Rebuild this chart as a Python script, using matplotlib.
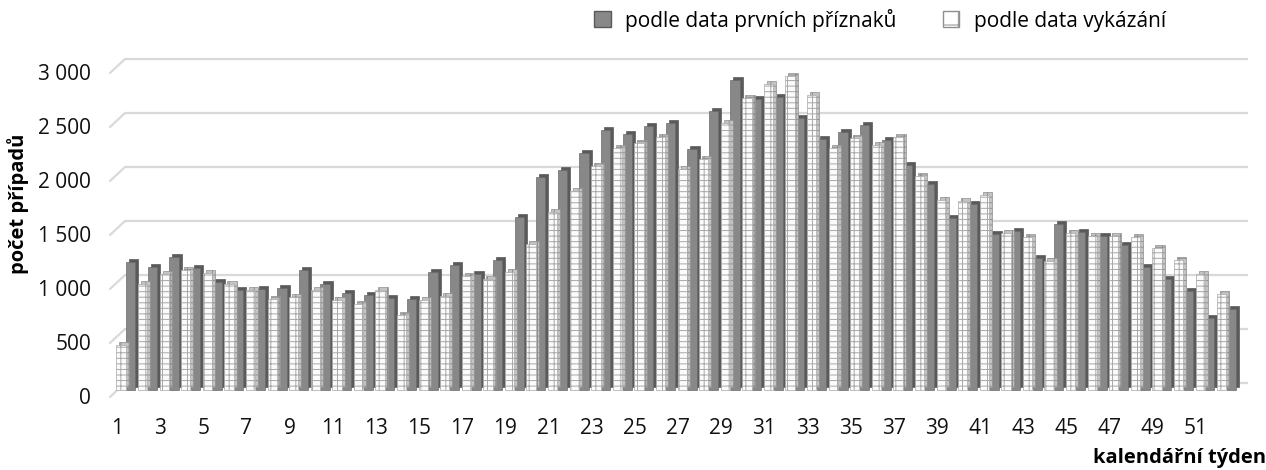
import matplotlib
matplotlib.use("Agg")
import matplotlib.pyplot as plt
from matplotlib.transforms import offset_copy, ScaledTranslation
from matplotlib.patches import Patch
import numpy as np

plt.rcParams['font.family'] = ['Open Sans', 'DejaVu Sans']
plt.rcParams['hatch.linewidth'] = 0.7

weeks = list(range(1, 53))
tick_weeks = list(range(1, 52, 2))
yticks = [0, 500, 1000, 1500, 2000, 2500, 3000]
ytick_labels = ["0", "500", "1 000", "1 500", "2 000", "2 500", "3 000"]

prvni_priznaky = [1184, 1138, 1230, 1125, 1000, 923, 938, 947, 1107, 984,
                  901, 876, 855, 846, 1091, 1159, 1070, 1208, 1605, 1974,
                  2036, 2192, 2408, 2374, 2442, 2475, 2235, 2583, 2866, 2697,
                  2712, 2516, 2321, 2392, 2454, 2312, 2085, 1907, 1590, 1722,
                  1445, 1476, 1224, 1538, 1467, 1430, 1344, 1138, 1030, 916,
                  667, 747]
vykazani = [415, 984, 1076, 1113, 1082, 984, 923, 846, 861, 929,
            837, 800, 929, 692, 830, 867, 1052, 1030, 1091, 1353,
            1645, 1845, 2070, 2245, 2291, 2343, 2045, 2137, 2475, 2706,
            2837, 2912, 2731, 2245, 2331, 2269, 2343, 1977, 1762, 1753,
            1808, 1451, 1414, 1193, 1451, 1430, 1430, 1421, 1313, 1206,
            1076, 892]

label_dark = "podle data prvních příznaků"
label_pat = "podle data vykázání"
xlabel = "kalendářní týden"
ylabel = "počet případů"

FS = 15
W, H = 1266, 470
fig = plt.figure(figsize=(W / 100, H / 100), dpi=100)
ax = fig.add_axes([105 / W, 1 - 400 / H, (1250 - 105) / W, 350 / H])
ax.set_xlim(0.444, 53.5)
ax.set_ylim(-157.4, 3083.3)
for s in ax.spines.values():
    s.set_visible(False)

x = np.array(weeks, dtype=float)
bw = 0.43

# back-wall gridlines with 3D stubs
for v in yticks:
    ax.plot([1.37, 53.41], [v, v], color='#d9d9d9', lw=1.6, zorder=0,
            solid_capstyle='butt')
    ax.annotate('', xy=(1.37, v), xycoords='data',
                xytext=(-15, -14), textcoords='offset pixels',
                arrowprops=dict(arrowstyle='-', color='#d9d9d9', lw=1.6,
                                shrinkA=0, shrinkB=0))

front = offset_copy(ax.transData, fig=fig, x=0, y=-7, units='dots')
side = offset_copy(ax.transData, fig=fig, x=3, y=-4, units='dots')

# dark series (behind)
ax.bar(x + 0.64, prvni_priznaky, width=bw, color='#5a5a5a', edgecolor='#5a5a5a',
       lw=0.5, transform=side, zorder=1)
ax.bar(x + 0.64, prvni_priznaky, width=bw, color='#888888', edgecolor='#6a6a6a',
       lw=0.5, transform=front, zorder=2)
# patterned series (front)
ax.bar(x + 0.19, vykazani, width=bw, color='#c4c4c4', edgecolor='#8f8f8f',
       lw=0.5, hatch='---||', transform=side, zorder=3)
ax.bar(x + 0.19, vykazani, width=bw, color='#fbfbfb', edgecolor='#a8a8a8',
       lw=0.5, hatch='---||', transform=front, zorder=4)

ax.set_xticks(tick_weeks)
ax.set_xticklabels([str(t) for t in tick_weeks], fontsize=FS)
ax.set_yticks(yticks)
ax.set_yticklabels(ytick_labels, fontsize=FS)
ax.tick_params(axis='both', length=0, colors='#111111')
ax.tick_params(axis='x', pad=13)
ax.tick_params(axis='y', pad=10)
for lab in ax.get_yticklabels():
    lab.set_transform(lab.get_transform() + ScaledTranslation(0, -13 / 100, fig.dpi_scale_trans))

fig.text(18 / W, 1 - 204 / H, ylabel, rotation=90, ha='center', va='center',
         fontsize=14.5, fontweight='bold')
fig.text(1266 / W, 1 - 458 / H, xlabel, ha='right', va='center',
         fontsize=14.5, fontweight='bold')

handles = [Patch(facecolor='#888888', edgecolor='#5a5a5a', lw=1),
           Patch(facecolor='#ffffff', edgecolor='#8f8f8f', lw=1, hatch='-|')]
fig.legend(handles, [label_dark, label_pat], loc='center',
           bbox_to_anchor=(880 / W, 1 - 20 / H), ncol=2, frameon=False,
           fontsize=FS, handlelength=0.8, handleheight=0.8,
           handletextpad=0.7, columnspacing=2.2)

fig.savefig("out.png", dpi=100)
